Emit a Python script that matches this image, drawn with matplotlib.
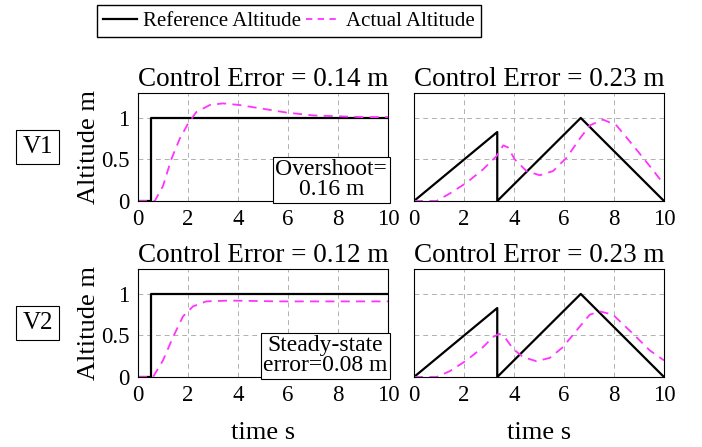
import numpy as np
import matplotlib.pyplot as plt
from matplotlib.lines import Line2D

plt.rcParams['font.family'] = ['Liberation Serif', 'DejaVu Serif']
plt.rcParams['font.size'] = 16

# reference signals
t_step = [0, 0.5, 0.5, 10]
y_step = [0, 0, 1, 1]
t_saw = [0, 3.33, 3.33, 6.67, 10]
y_saw = [0, 0.83, 0, 1, 0]

# V1 actual altitude
t_v1_step = [0, 0.67, 1.0, 1.33, 1.67, 2.0, 2.33, 2.87, 3.4, 4.07, 5.0, 5.93, 7.0, 7.93, 9.0, 10]
y_v1_step = [0, 0, 0.18, 0.5, 0.75, 0.93, 1.07, 1.155, 1.175, 1.155, 1.11, 1.065, 1.03, 1.02, 1.01, 1.01]
t_v1_saw = [0, 0.9, 1.43, 2.1, 2.76, 3.3, 3.57, 3.76, 4.03, 4.5, 5.03, 5.56, 6.1, 6.63, 7.03, 7.56, 8.1, 8.76, 9.43, 10]
y_v1_saw = [0, 0, 0.09, 0.22, 0.38, 0.54, 0.67, 0.645, 0.5, 0.36, 0.31, 0.36, 0.52, 0.75, 0.91, 0.98, 0.91, 0.67, 0.42, 0.2]

# V2 actual altitude
t_v2_step = [0, 0.6, 1.0, 1.4, 1.8, 2.2, 2.73, 3.67, 5.67, 7.67, 10]
y_v2_step = [0, 0, 0.2, 0.48, 0.73, 0.85, 0.91, 0.92, 0.91, 0.91, 0.91]
t_v2_saw = [0, 0.9, 1.43, 2.1, 2.76, 3.16, 3.4, 3.63, 3.96, 4.36, 4.9, 5.43, 5.96, 6.5, 7.03, 7.43, 7.96, 8.76, 9.43, 10]
y_v2_saw = [0, 0, 0.07, 0.2, 0.36, 0.48, 0.52, 0.48, 0.34, 0.24, 0.19, 0.23, 0.36, 0.56, 0.75, 0.79, 0.75, 0.52, 0.32, 0.2]

titles = [["Control Error = 0.14 m", "Control Error = 0.23 m"],
          ["Control Error = 0.12 m", "Control Error = 0.23 m"]]
notes = ["Overshoot=\n0.16 m", "Steady-state\nerror=0.08 m"]
rows = ["V1", "V2"]

W, H = 702, 447
fig = plt.figure(figsize=(W / 100, H / 100), dpi=100)

def px_axes(x0, y0, x1, y1):
    return fig.add_axes([x0 / W, 1 - y1 / H, (x1 - x0) / W, (y1 - y0) / H])

data = [[(t_v1_step, y_v1_step), (t_v1_saw, y_v1_saw)],
        [(t_v2_step, y_v2_step), (t_v2_saw, y_v2_saw)]]
tops = [93, 269]
lefts = [138, 414]
mag = '#ff33ff'

for r in range(2):
    for c in range(2):
        ax = px_axes(lefts[c], tops[r], lefts[c] + 250, tops[r] + 108)
        if c == 0:
            ax.plot(t_step, y_step, color='black', lw=1.6)
        else:
            ax.plot(t_saw, y_saw, color='black', lw=1.6)
        t, y = data[r][c]
        ax.plot(t, y, color=mag, lw=1.3, dashes=(5, 3.5))
        ax.set_xlim(0, 10)
        ax.set_ylim(0, 1.3)
        ax.set_xticks([0, 2, 4, 6, 8, 10])
        ax.set_yticks([0, 0.5, 1])
        ax.set_yticklabels(['0', '0.5', '1'])
        ax.grid(True, color='#b0b0b0', ls=(0, (5, 4)), lw=0.7)
        ax.tick_params(length=0, pad=6, labelsize=16.5)
        for s in ax.spines.values():
            s.set_linewidth(0.8)
        ax.set_title(titles[r][c], pad=5, fontsize=19.5)
        if c == 0:
            ax.set_ylabel("Altitude m", labelpad=1, fontsize=19)
            ax.text(0.997, 0.005, notes[r], transform=ax.transAxes, ha='right', va='bottom',
                    multialignment='center', linespacing=0.95, fontsize=17,
                    bbox=dict(boxstyle='square,pad=0.1', fc='white', ec='black', lw=0.8))
        else:
            ax.set_yticklabels([])
        if r == 1:
            ax.set_xlabel("time s", labelpad=11, fontsize=19)

for r in range(2):
    fig.text(37.5 / W, 1 - (147 + 176 * r) / H, rows[r], ha='center', va='center', fontsize=18,
             bbox=dict(boxstyle='square,pad=0.25', fc='white', ec='black', lw=0.8))

handles = [Line2D([], [], color='black', lw=1.6),
           Line2D([], [], color=mag, lw=1.3, dashes=(3.5, 3))]
fig.legend(handles, ["Reference Altitude", "Actual Altitude"], ncol=2, fontsize=15,
           loc='center', bbox_to_anchor=(289 / W, 1 - 21 / H), frameon=True,
           fancybox=False, edgecolor='black', handlelength=1.6, columnspacing=0.25,
           handletextpad=0.3, borderpad=0.3, borderaxespad=0, framealpha=1)

fig.savefig("out.png", dpi=100)
